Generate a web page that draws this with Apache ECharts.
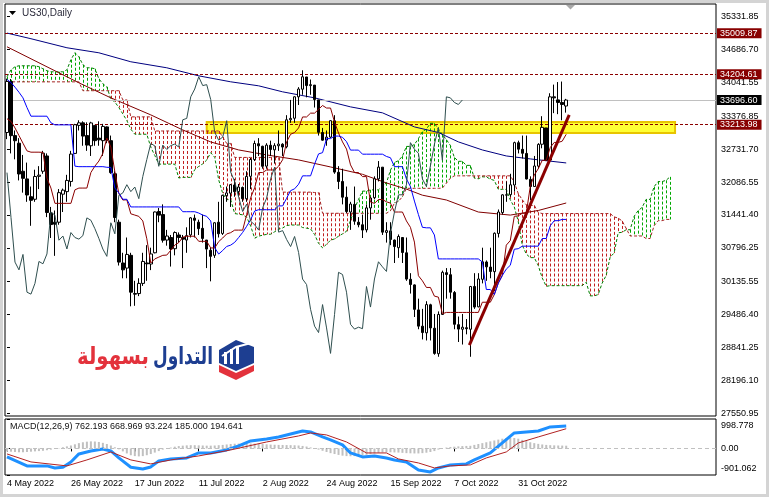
<!DOCTYPE html>
<html><head><meta charset="utf-8">
<script src="https://cdn.jsdelivr.net/npm/echarts/dist/echarts.min.js"></script>
<style>html,body{margin:0;padding:0;background:#fff;overflow:hidden}#c{width:769px;height:497px}</style>
</head><body><div id="c"></div>
<script>
// ---------- DATA ----------
const xTickLabels = ['4 May 2022','26 May 2022','17 Jun 2022','11 Jul 2022','2 Aug 2022','24 Aug 2022','15 Sep 2022','7 Oct 2022','31 Oct 2022'];
const xTickEvery = 16;
const slotCount = 178;
const yTickValues = [35331.85,34686.70,34041.55,33376.85,32731.70,32086.55,31441.40,30796.25,30135.55,29486.40,28841.25,28196.10,27550.95];
const macdTickValues = [998.778, 0, -901.062];
const macdTickLabels = ['998.778', '0.00', '-901.062'];
const levelLines = [35009.87, 34204.61, 33213.98];
const bidPrice = 33696.60;
const macdTitle = 'MACD(12,26,9) 762.193 668.969 93.224 185.000 194.641';

// [open, close, low, high]
const ohlc = [
[33060,34061,32930,34117],[34060,32998,32650,34110],[33000,32899,32534,33100],[32850,32246,32120,32950],[32300,32161,31880,32620],
[32150,31834,31700,32470],[31800,31730,31230,32000],[31750,32197,31700,32330],[32200,32223,31950,32400],[32300,32655,32250,32700],
[32600,31490,31400,32650],[31480,31254,30990,31600],[31300,31262,30640,31530],[31300,31880,31250,31950],[31850,31929,31500,31960],
[31900,32120,31700,32230],[32100,32637,32000,32700],[32650,33213,32640,33230],[33200,33250,33100,33300],[33250,32990,32800,33280],
[33000,32813,32700,33260],[32800,33248,32600,33270],[33200,32900,32800,33200],[32950,32916,32800,33280],[32900,33180,32600,33230],
[33170,32910,32850,33180],[32900,32273,32250,33000],[32250,31393,31300,32300],[31300,30517,30450,31350],[30500,30365,30200,30700],
[30400,30668,30200,31000],[30650,29927,29650,30700],[29900,29889,29660,30150],[29900,30100,29850,30200],[30100,30530,30050,30700],
[30500,30484,30150,30850],[30480,30677,30360,30800],[30700,31501,30690,31510],[31510,31439,31300,31580],[31450,30947,30900,31650],
[30950,31029,30840,31150],[31000,30775,30430,31050],[30780,31097,30650,31120],[31050,31000,30900,31100],[31000,30968,30400,31050],
[30950,31037,30700,31200],[31050,31385,31000,31400],[31380,31338,31000,31450],[31300,31174,31050,31350],[31180,30982,30900,31450],
[30950,30773,30400,30950],[30750,30630,30140,30800],[30650,31289,30600,31300],[31300,31073,31000,31700],[31080,31827,31050,31840],
[31820,31875,31700,32000],[31870,32036,31600,32050],[32030,31900,31800,32150],[31900,31990,31800,32050],[31980,31762,31700,32000],
[31760,32198,31700,32300],[32200,32530,31950,32560],[32530,32845,32500,32900],[32840,32798,32600,32950],[32790,32397,32350,32800],
[32400,32813,32350,32850],[32810,32727,32600,32900],[32720,32803,32450,32850],[32800,32833,32700,33100],[32830,32775,32600,32850],
[32780,33310,32750,33400],[33310,33337,33250,33700],[33340,33761,33250,33770],[33760,33913,33600,33950],[33910,34153,33800,34281],
[34150,33981,33750,34150],[33980,33999,33800,34100],[33990,33707,33550,33990],[33700,33064,33000,33700],[33060,32910,32900,33150],
[32910,32970,32800,33100],[32970,33292,32950,33300],[33290,32283,32250,33400],[32280,32099,31950,32400],[32100,31791,31650,32350],
[31790,31510,31480,32000],[31500,31657,31150,31700],[31650,31319,31250,32000],[31300,31250,31200,31400],[31250,31146,30990,31450],
[31150,31581,31100,31650],[31580,31775,31350,31800],[31780,32152,31750,32200],[32150,32381,32100,32500],[32380,31105,31050,32380],
[31100,31135,30900,31300],[31130,30962,30850,31300],[30950,30822,30500,30960],[30800,31020,30600,31060],[31000,30706,30500,31000],
[30700,30184,30150,31000],[30180,30077,29900,30300],[30070,29590,29440,30080],[29580,29261,29200,29800],[29260,29135,29000,29600],
[29130,29684,28980,29750],[29680,29226,28980,29700],[29220,28726,28700,29500],[28720,29490,28660,29550],[29490,30317,29480,30350],
[30310,30274,29800,30400],[30270,29927,29800,30400],[29920,29297,29200,29950],[29290,29203,28950,29450],[29200,29240,28900,29500],
[29230,29211,29100,29400],[29200,30039,28660,30050],[30040,29635,29600,30300],[29640,30186,29630,30300],[30180,30524,30100,30800],
[30520,30424,30150,30550],[30420,30334,30200,30800],[30330,31083,29950,31100],[31080,31500,31000,31550],[31490,31837,31450,31850],
[31830,31839,31700,32100],[31840,32034,31800,32250],[32030,32861,31900,32880],[32860,32733,32650,32900],[32730,32653,32550,33000],
[32650,32148,32140,33000],[32140,32001,31730,32200],[32000,32403,32000,32600],[32400,32827,32350,32850],[32830,33161,32750,33380],
[33150,32514,32500,33150],[32520,33760,32500,33830],[33760,33740,33440,34000],[33700,33650,33420,34050],[33650,33610,33300,34060],
[33580,33697,33450,33720]
];

const tenkan = [
33330,33280,33150,33000,32850,32700,32674,32674,32674,32670,
32165,31970,31670,31670,31670,31670,31670,31935,31970,31970,
31970,32275,32400,32500,32650,32950,32775,32290,31860,31735,
31740,31465,31440,31415,31325,30975,30500,30580,30615,30650,
30655,30750,30850,30900,31005,31025,31025,31025,30925,30925,
30925,30795,30795,30920,30990,31070,31095,31145,31145,31145,
31450,31780,31975,32275,32275,32325,32325,32325,32400,32525,
32875,33025,33060,33150,33365,33365,33440,33440,33515,33590,
33540,33540,33265,33050,32875,32735,32425,32275,32275,32195,
32195,31695,31670,31745,31745,31700,31675,31500,31500,31500,
31325,31200,30910,30250,30150,30020,30020,29850,29830,29505,
29530,29530,29530,29530,29530,29530,29530,29530,29530,29730,
29730,29730,29880,30105,30255,30850,30940,31415,31425,31475,
31475,32000,32225,32350,32515,32515,32765,32865,32865,32890,
33025];

const kijun = [
34100,34040,33950,33850,33740,33550,33380,33380,33380,33380,
33380,33250,33210,33210,33210,33210,33210,32400,32390,32390,
32390,32390,32390,32390,32390,32378,32375,31970,31875,31750,
31750,31600,31600,31600,31600,31600,31600,31600,31600,31600,
31600,31600,31600,31600,31506,31506,31506,31506,31480,31440,
31415,31325,30800,30675,30745,30825,30850,30905,31000,31100,
31220,31350,31520,31545,31545,31545,31545,31545,31620,31620,
31770,31920,31955,32045,32210,32210,32210,32440,32640,32665,
32940,32940,32990,32990,32965,32880,32715,32715,32715,32635,
32635,32635,32635,32635,32635,32590,32565,32390,32390,32390,
32150,32000,31715,31450,31200,31190,31190,31050,30580,30580,
30580,30580,30580,30580,30580,30580,30580,30580,30580,30520,
29980,29980,29880,30105,30255,30380,30455,30770,30780,30830,
30830,30830,30830,30830,30980,30980,31230,31330,31330,31355,
31355];

const spanA = [
34153,34290,34350,34369,34369,34369,34369,34369,34350,34310,
34271,34251,34251,34251,34251,34290,34487,34625,34546,34389,
34330,34330,34310,34114,34015,33956,33715,33660,33550,33425,
33295,33125,33027,33027,33027,33025,32772,32610,32440,32440,
32440,32440,32440,32167,32180,32180,32180,32332,32395,32445,
32520,32664,32575,32130,31867,31742,31745,31470,31457,31445,
31400,31225,30987,31027,31045,31062,31065,31112,31162,31187,
31235,31245,31245,31245,31195,31182,31170,31060,30885,30797,
30867,30947,30972,31025,31072,31122,31335,31565,31747,31910,
31910,31935,31935,31935,32010,32072,32322,32472,32507,32597,
32787,32787,32825,32940,33077,33127,33240,33240,33127,33020,
32920,32807,32570,32495,32495,32415,32415,32165,32152,32190,
32190,32145,32120,31945,31945,31945,31737,31600,31312,30850,
30675,30605,30605,30450,30205,30042,30055,30055,30055,30055,
30055,30055,30055,30055,30055,30125,29855,29855,29880,30105,
30255,30615,30697,31092,31102,31152,31152,31415,31527,31590,
31747,31747,31997,32097,32097,32122,32190];

const spanB = [
34054,34054,34054,34054,34054,34054,34054,34054,34054,34054,
34054,34054,34054,34054,34054,34054,34054,34054,34054,33880,
33880,33880,33880,33880,33880,33880,33880,33880,33880,33700,
33700,33367,33367,33367,33367,33367,33367,33090,33090,33090,
33090,33090,33090,33090,33090,33090,33090,33090,33090,33090,
33090,33090,33090,33090,32971,32846,32846,32571,32571,32571,
32571,32571,32571,32571,32571,32571,32571,32571,32571,31890,
31890,31890,31890,31890,31890,31890,31890,31883,31880,31475,
31475,31475,31475,31475,31475,31475,31475,31475,31475,31475,
31475,31475,31475,31475,31475,31475,31525,31675,31710,31800,
31965,31965,31965,31965,31965,31965,31965,31965,31965,31970,
32065,32165,32210,32210,32210,32210,32210,32210,32210,32210,
32210,32210,32210,32210,32210,32210,32210,32090,31860,31740,
31640,31630,31630,31490,31470,31470,31470,31470,31470,31470,
31470,31470,31470,31470,31470,31470,31470,31470,31470,31470,
31470,31470,31405,31380,31325,31180,31030,31030,31030,31030,
30980,30980,31230,31330,31330,31355,31355];

// moving averages read at points: [bar index, value]
const navyMA = [[0,35011],[6,34900],[15,34723],[23,34624],[31,34448],[40,34330],[48,34172],[56,34055],[63,33976],[69,33858],[77,33740],[86,33563],[94,33446],[102,33170],[108,33060],[113,32876],[119,32718],[125,32600],[131,32542],[140,32463]];
const maroonMA = [[0,34742],[8,34428],[18,34035],[26,33740],[36,33406],[44,33111],[51,32875],[58,32718],[65,32620],[73,32522],[81,32384],[89,32240],[95,32070],[100,31950],[104,31830],[110,31736],[118,31500],[126,31440],[133,31530],[140,31677]];

// trend line and yellow zone in [bar index, price]
const trendLine = [[115.75,28887],[140.75,33406]];
const zoneRect = [50,33268,167.25,33052];

// MACD panel
const macdLine = [[0,-288],[5,-593],[10,-593],[12,-661],[14,-640],[16,-458],[18,-186],[21,-85],[24,-17],[26,-85],[28,-322],[31,-640],[34,-695],[36,-627],[38,-424],[41,-356],[45,-322],[48,-153],[51,-153],[55,-51],[58,85],[61,254],[65,322],[68,390],[71,492],[74,593],[76,559],[79,390],[81,288],[84,119],[86,-153],[89,-288],[92,-254],[95,-322],[97,-390],[100,-458],[103,-729],[106,-797],[108,-661],[111,-559],[115,-525],[117,-390],[121,-153],[124,186],[127,525],[130,559],[133,593],[136,729],[140,762]];
const signalLine = [[0,-186],[6,-458],[15,-593],[20,-390],[26,-119],[31,-390],[36,-525],[41,-390],[48,-254],[56,-51],[65,220],[73,424],[76,525],[80,458],[85,220],[90,-153],[95,-153],[98,-356],[103,-492],[107,-661],[111,-593],[116,-559],[120,-322],[125,-119],[128,186],[133,390],[140,669]];
const macdHist = [
-100,-110,-120,-130,-130,-120,-110,-100,-90,-80,
-60,-40,-20,10,40,70,100,140,180,210,
230,240,235,220,190,150,100,40,-30,-100,
-170,-230,-260,-270,-260,-230,-190,-140,-90,-40,
0,30,60,80,95,105,110,110,105,100,
95,95,100,110,120,135,150,160,165,170,
170,168,165,160,150,140,130,125,120,118,
115,112,108,100,85,65,35,0,-40,-80,
-120,-160,-190,-220,-245,-260,-265,-260,-250,-235,
-215,-190,-170,-150,-135,-130,-130,-135,-140,-150,
-160,-165,-170,-170,-160,-145,-120,-90,-40,0,
30,50,60,70,80,85,90,120,150,180,
210,240,270,300,330,350,360,355,330,290,
250,210,180,155,135,120,110,105,100,97,
93];

// ---------- BUILD ----------
const cats = [];
(function(){ const d = new Date(Date.UTC(2022,4,4)); while (cats.length < slotCount){ const w = d.getUTCDay(); if (w>0 && w<6) cats.push(d.toISOString().slice(0,10)); d.setUTCDate(d.getUTCDate()+1);} })();
const chikou = ohlc.slice(26).map(d => d[1]);
const cloudData = spanA.map((a, j) => [j, a, spanB[j]]);
const FONT = 'Liberation Sans, Arial, sans-serif';
const isTick = i => i % xTickEvery === 0 && (i / xTickEvery) < xTickLabels.length;
const CLOUD_UP = '#00A800', CLOUD_DN = '#C02020';

function fitScale(text, font, target){
  const c = document.createElement('canvas').getContext('2d'); c.font = font;
  const w = c.measureText(text).width; return w > 0 ? target / w : 1;
}
const arFont = 'bold 24px "DejaVu Sans", sans-serif';
const s1 = fitScale('التداول', arFont, 60), s2 = fitScale('بسهولة', arFont, 72);

const boxLabel = (bg) => ({show:true, position:'end', distance:1, formatter: p => p.value.toFixed(2),
  color:'#fff', backgroundColor:bg, padding:[1,4,0,3], fontSize:9, lineHeight:9, fontFamily:FONT});

const chart = echarts.init(document.getElementById('c'), null, {renderer:'canvas', width:769, height:497});
chart.setOption({
  animation:false,
  backgroundColor:'#fff',
  grid:[
    {left:5, top:4, width:711, height:412, show:true, borderColor:'#000', borderWidth:1},
    {left:5, top:419, width:711, height:56, show:true, borderColor:'#000', borderWidth:1}
  ],
  xAxis:[
    {type:'category', gridIndex:0, data:cats, boundaryGap:true, axisLine:{show:false}, axisTick:{show:false}, axisLabel:{show:false}, splitLine:{show:false}},
    {type:'category', gridIndex:1, data:cats, boundaryGap:true, axisLine:{show:false},
      axisTick:{show:true, length:3, alignWithLabel:true, interval:(i)=>isTick(i), lineStyle:{color:'#000'}},
      axisLabel:{show:true, interval:(i)=>isTick(i), formatter:(v,i)=>xTickLabels[i/xTickEvery], align:'left', margin:4, fontSize:9, fontFamily:FONT, color:'#000'},
      splitLine:{show:false}},
    {type:'value', gridIndex:0, min:-0.5, max:slotCount-0.5, show:false},
    {type:'value', gridIndex:1, min:-0.5, max:slotCount-0.5, show:false}
  ],
  yAxis:[
    {type:'value', gridIndex:0, position:'right', min:27497.9, max:35581.4, splitLine:{show:false}, axisLine:{show:false},
      axisTick:{show:true, length:3, customValues:yTickValues, lineStyle:{color:'#000'}},
      axisLabel:{show:true, customValues:yTickValues, formatter:v=>v.toFixed(2), margin:5, fontSize:9, fontFamily:FONT, color:'#000'}},
    {type:'value', gridIndex:1, position:'right', min:-901.062, max:998.778, splitLine:{show:false}, axisLine:{show:false},
      axisTick:{show:true, length:3, customValues:macdTickValues, lineStyle:{color:'#000'}},
      axisLabel:{show:true, customValues:macdTickValues, showMinLabel:true, showMaxLabel:true,
        formatter:v=>{const k=macdTickValues.indexOf(v); if(k===0) return '{hi|'+macdTickLabels[k]+'}'; if(k===2) return '{lo|'+macdTickLabels[k]+'}'; return k>=0?macdTickLabels[k]:'';},
        rich:{hi:{padding:[14,0,0,0], fontSize:9, fontFamily:FONT, color:'#000'}, lo:{padding:[0,0,12,0], fontSize:9, fontFamily:FONT, color:'#000'}},
        margin:5, fontSize:9, fontFamily:FONT, color:'#000'}}
  ],
  series:[
    {type:'custom', xAxisIndex:2, yAxisIndex:0, z:1, silent:true, data:[zoneRect], encode:{x:[0,2], y:[1,3]},
      renderItem:(p,api)=>{const a=api.coord([api.value(0),api.value(1)]), b=api.coord([api.value(2),api.value(3)]);
        return {type:'rect', shape:{x:a[0], y:a[1], width:b[0]-a[0], height:b[1]-a[1]}, style:{fill:'#FFFF33', stroke:'#E8C400', lineWidth:2}};}},
    {type:'custom', xAxisIndex:0, yAxisIndex:0, z:2, silent:true, data:cloudData, encode:{x:0, y:[1,2]},
      renderItem:(p,api)=>{const j=api.value(0), a=api.value(1), b=api.value(2);
        const p1=api.coord([j,a]), p2=api.coord([j,b]); const x=Math.round(p1[0])+0.5;
        const top=Math.min(p1[1],p2[1]), bot=Math.max(p1[1],p2[1]);
        return {type:'line', shape:{x1:x, y1:top, x2:x, y2:bot}, style:{stroke: a>=b?CLOUD_UP:CLOUD_DN, lineWidth:1, lineDash:[3,2], opacity:1}};}},
    {type:'line', xAxisIndex:0, yAxisIndex:0, z:2, data:spanA, symbol:'none', silent:true, lineStyle:{color:'#008000', width:1, type:[3,2]}},
    {type:'line', xAxisIndex:0, yAxisIndex:0, z:2, data:spanB, symbol:'none', silent:true, lineStyle:{color:'#A52222', width:1, type:[3,2]}},
    {type:'line', xAxisIndex:2, yAxisIndex:0, z:3, data:navyMA, symbol:'none', silent:true, lineStyle:{color:'#000080', width:1}},
    {type:'line', xAxisIndex:2, yAxisIndex:0, z:3, data:maroonMA, symbol:'none', silent:true, lineStyle:{color:'#800000', width:1}},
    {type:'candlestick', xAxisIndex:0, yAxisIndex:0, z:5, data:ohlc, barWidth:3, silent:true,
      itemStyle:{color:'#fff', color0:'#000', borderColor:'#000', borderColor0:'#000', borderWidth:1},
      markLine:{silent:true, symbol:['none','none'], animation:false,
        data: levelLines.map(v=>({yAxis:v, lineStyle:{color:'#8B0000', type:[3,2], width:1}, label:boxLabel('#880000')}))
          .concat([{yAxis:bidPrice, lineStyle:{color:'#C0C0C0', type:'solid', width:1}, label:boxLabel('#000')}])}},
    {type:'line', xAxisIndex:0, yAxisIndex:0, z:6, data:tenkan, symbol:'none', silent:true, lineStyle:{color:'#8B0000', width:1}},
    {type:'line', xAxisIndex:0, yAxisIndex:0, z:6, data:kijun, symbol:'none', silent:true, lineStyle:{color:'#0000FF', width:1}},
    {type:'line', xAxisIndex:0, yAxisIndex:0, z:6, data:chikou, symbol:'none', silent:true, lineStyle:{color:'#2F4F4F', width:1}},
    {type:'line', xAxisIndex:2, yAxisIndex:0, z:7, data:trendLine, symbol:'none', silent:true, lineStyle:{color:'#8B0000', width:3}},
    {type:'bar', xAxisIndex:1, yAxisIndex:1, z:2, data:macdHist, barWidth:2, silent:true, itemStyle:{color:'#C0C0C0'},
      markLine:{silent:true, symbol:['none','none'], label:{show:false}, data:[{yAxis:0}], lineStyle:{color:'#C0C0C0', type:[4,3], width:1}}},
    {type:'line', xAxisIndex:3, yAxisIndex:1, z:4, data:macdLine, symbol:'none', silent:true, lineStyle:{color:'#1E90FF', width:3}},
    {type:'line', xAxisIndex:3, yAxisIndex:1, z:5, data:signalLine, symbol:'none', silent:true, lineStyle:{color:'#B22222', width:1}}
  ],
  graphic:[
    {type:'rect', shape:{x:0, y:0, width:769, height:3}, style:{fill:'#D4D4D4'}, silent:true},
    {type:'rect', shape:{x:0, y:0, width:3, height:497}, style:{fill:'#D4D4D4'}, silent:true},
    {type:'rect', shape:{x:766, y:0, width:3, height:497}, style:{fill:'#D4D4D4'}, silent:true},
    {type:'rect', shape:{x:0, y:494, width:769, height:3}, style:{fill:'#D4D4D4'}, silent:true},
    {type:'polygon', shape:{points:[[9,11],[16,11],[12.5,15]]}, style:{fill:'#000'}, silent:true},
    {type:'text', x:22, y:13, style:{text:'US30,Daily', font:'10px '+FONT, fill:'#2A2A3A', verticalAlign:'middle'}, silent:true},
    {type:'polygon', shape:{points:[[566,5],[575,5],[570.5,9.5]]}, style:{fill:'#A8A8A8'}, silent:true},
    {type:'text', x:10, y:427, style:{text:macdTitle, font:'9px '+FONT, fill:'#111', verticalAlign:'middle'}, silent:true, z:100},
    {type:'text', x:213, y:358, scaleX:s1, style:{text:'التداول', font:arFont, fill:'#1D3E91', align:'right', verticalAlign:'middle'}, silent:true, z:100},
    {type:'text', x:149, y:358, scaleX:s2, style:{text:'بسهولة', font:arFont, fill:'#E3323C', align:'right', verticalAlign:'middle'}, silent:true, z:100},
    {type:'polygon', shape:{points:[[219,350],[236,340],[254,347],[254,363],[236,371],[219,363]]}, style:{fill:'#1D3E91'}, silent:true, z:100},
    {type:'rect', shape:{x:224, y:352, width:3, height:12}, style:{fill:'#fff'}, silent:true, z:101},
    {type:'rect', shape:{x:230, y:349, width:3, height:15}, style:{fill:'#fff'}, silent:true, z:101},
    {type:'rect', shape:{x:236, y:346, width:3, height:18}, style:{fill:'#fff'}, silent:true, z:101},
    {type:'polyline', shape:{points:[[222,356],[236,347],[251,343]]}, style:{stroke:'#fff', lineWidth:2}, silent:true, z:101},
    {type:'polygon', shape:{points:[[219,365],[236,373],[254,365],[254,371],[236,380],[219,372]]}, style:{fill:'#E3323C'}, silent:true, z:100}
  ]
});
</script></body></html>
